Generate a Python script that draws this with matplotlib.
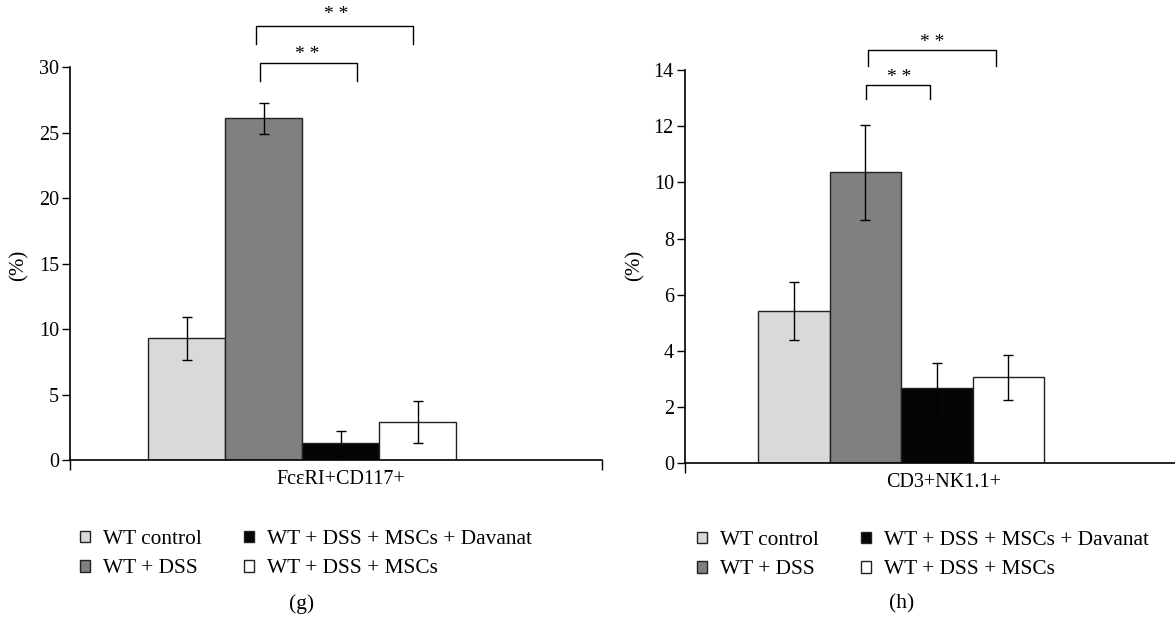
import matplotlib
matplotlib.use('Agg')
import matplotlib.pyplot as plt
from matplotlib.patches import Patch

plt.rcParams['font.family'] = ['Liberation Serif', 'DejaVu Serif']

groups = ['WT control', 'WT + DSS', 'WT + DSS + MSCs + Davanat', 'WT + DSS + MSCs']
colors = ['#d9d9d9', '#808080', '#050505', '#ffffff']

# panel (g)
g_label = 'Fc\u03b5RI+CD117+'
g_values = [9.3, 26.1, 1.27, 2.9]
g_errors = [1.65, 1.2, 0.95, 1.6]
g_yticks = [0, 5, 10, 15, 20, 25, 30]
# brackets: x start, x end, top, leg bottom, star x, star y (bar-index units / data)
g_brackets = [(-0.60, 1.445, 33.15, 31.75, 0.44, 34.0),
              (-0.545, 0.718, 30.3, 28.95, 0.07, 31.0)]

# panel (h)
h_label = 'CD3+NK1.1+'
h_values = [5.42, 10.36, 2.67, 3.07]
h_errors = [1.03, 1.69, 0.91, 0.8]
h_yticks = [0, 2, 4, 6, 8, 10, 12, 14]
h_brackets = [(-0.466, 1.324, 14.7, 14.15, 0.43, 14.98),
              (-0.485, 0.41, 13.47, 12.96, -0.03, 13.72)]

W, H = 1175, 618
fig = plt.figure(figsize=(W / 100, H / 100), dpi=100)


def px_axes(x0, x1, y0, y1):
    return fig.add_axes([x0 / W, 1 - y0 / H, (x1 - x0) / W, (y0 - y1) / H])


def draw_panel(ax, values, errors, yticks, brackets, cat, xlim, tag, tag_xy, leg_xy, ylab_x):
    xs = [-1.5, -0.5, 0.5, 1.5]
    ax.bar(xs, values, width=1.0, color=colors, edgecolor='#222222', linewidth=1.0, zorder=2)
    ax.errorbar(xs, values, yerr=errors, fmt='none', ecolor='black', elinewidth=1.0,
                capsize=3.5, capthick=1.0, zorder=3)
    ax.set_xlim(*xlim)
    ax.set_ylim(yticks[0], yticks[-1])
    ax.set_yticks(yticks)
    ax.set_xticks(list(xlim))
    ax.set_xticklabels(['', ''])
    ax.tick_params(axis='x', direction='out', length=7, width=1.0)
    ax.tick_params(axis='y', direction='out', length=6, width=1.0, labelsize=14.5, pad=2)
    for s in ['top', 'right']:
        ax.spines[s].set_visible(False)
    for s in ['left', 'bottom']:
        ax.spines[s].set_linewidth(1.2)
    ax.text(0.51, -0.05, cat, transform=ax.transAxes, ha='center', va='center', fontsize=14.5)
    fig.text(ylab_x / W, 0.57, '(%)', rotation=90, ha='center', va='center', fontsize=15)
    for x0, x1, top, bot, sx, sy in brackets:
        ax.plot([x0, x0, x1, x1], [bot, top, top, bot], color='black', lw=1.0, clip_on=False)
        ax.text(sx, sy, '* *', ha='center', va='center', fontsize=14, clip_on=False)
    handles = [Patch(facecolor=c, edgecolor='#222222', linewidth=1.0) for c in colors]
    fig.legend(handles, groups, loc='upper left', bbox_to_anchor=(leg_xy[0] / W, 1 - leg_xy[1] / H),
               ncol=2, frameon=False, fontsize=15.4, handlelength=0.47, handleheight=0.47,
               handletextpad=0.6, columnspacing=1.98, labelspacing=0.48, borderpad=0,
               borderaxespad=0)
    fig.text(tag_xy[0] / W, 1 - tag_xy[1] / H, tag, ha='center', va='center', fontsize=15.5)


ax1 = px_axes(70, 602, 460, 67.3)
draw_panel(ax1, g_values, g_errors, g_yticks, g_brackets, g_label,
           (-3.013, 3.896), '(g)', (302, 604), (80, 530), 19)

ax2 = px_axes(685, 1193, 463.3, 70)
draw_panel(ax2, h_values, h_errors, h_yticks, h_brackets, h_label,
           (-3.02, 4.08), '(h)', (902, 604), (697, 531), 635)

fig.savefig('out.png', dpi=100)
